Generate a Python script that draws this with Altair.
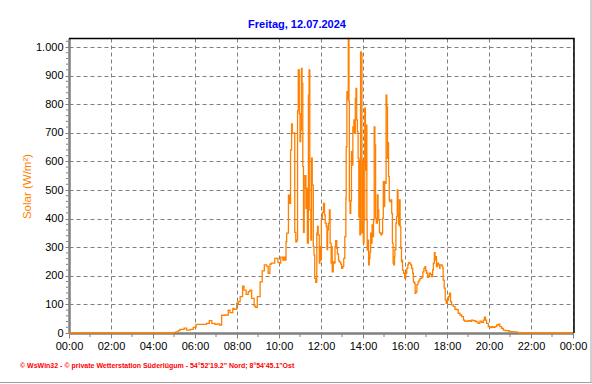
import altair as alt
import pandas as pd

# ---- data (minute of day, W/m²) ----
morning_min = [0, 294, 300, 306, 312, 317, 327, 329, 336, 346, 355, 363, 384, 393, 401, 408,
               417, 424, 430, 436, 446, 455, 460, 468, 471, 479, 484, 489, 496, 500, 506, 512,
               517, 522, 529, 533, 538, 546, 552, 558, 565, 569, 574, 578, 588, 597, 602, 605,
               611, 614, 617]
morning_val = [0, 0, 2, 4, 8, 13, 13, 17, 10, 13, 20, 30, 30, 34, 43, 34,
               30, 32, 28, 62, 63, 80, 71, 86, 83, 104, 110, 127, 164, 150, 135, 145,
               150, 121, 94, 90, 127, 179, 217, 238, 233, 209, 241, 244, 261, 246, 244, 265,
               255, 265, 255]

midday_min = [620, 622, 627, 630, 633, 636, 638, 643, 645, 648, 651, 653, 655, 658, 660, 662,
              664, 666, 668, 670, 672, 674, 677, 679, 681, 684, 686, 688, 691, 693, 695, 698,
              700, 702, 705, 708, 710, 712, 715, 717, 719, 721, 724, 727, 730, 732, 735, 737,
              739, 741, 744, 746, 749, 751, 752, 755, 757, 760, 762, 765, 767, 770, 772, 776,
              779, 782, 785, 788, 791, 792, 794, 796, 798, 800, 801, 803, 805, 807, 809, 811,
              812, 814, 816, 818, 820, 822, 824, 826, 828, 830, 831, 833, 835, 837, 839, 841,
              843, 845, 847, 849, 851, 852, 854, 856, 858, 860, 862, 864, 866, 868, 870, 872,
              874, 876, 878, 881, 883, 885, 887, 889, 891, 894, 896, 898, 900, 902, 904, 906,
              908, 910, 911, 913, 915, 917, 919, 922, 924, 926, 928, 930, 931, 934, 936, 938,
              940, 942, 944, 946, 948, 950, 951, 953, 956, 959, 962, 965, 968, 970, 973, 976,
              979, 982, 984, 987, 989, 991, 994, 997, 1000, 1003, 1006, 1009, 1011, 1014, 1017, 1019,
              1022, 1025, 1028, 1030, 1033, 1036, 1039, 1041, 1044, 1046, 1048, 1050, 1053, 1056, 1059]
midday_val = [319, 349, 482, 453, 640, 731, 698, 700, 352, 319, 325, 777, 920, 767, 669, 710,
              925, 873, 582, 352, 506, 550, 436, 506, 314, 832, 920, 431, 325, 611, 517, 302,
              273, 191, 177, 349, 373, 343, 244, 302, 255, 401, 422, 453, 413, 384, 372, 292,
              360, 384, 430, 314, 244, 302, 214, 249, 244, 302, 323, 296, 277, 255, 249, 241,
              226, 232, 261, 337, 470, 651, 844, 815, 1030, 809, 462, 418, 462, 634, 587, 721,
              703, 745, 698, 820, 855, 745, 703, 611, 406, 605, 343, 983, 977, 350, 605, 314,
              395, 786, 570, 727, 396, 290, 325, 238, 261, 284, 349, 314, 378, 337, 395, 721,
              657, 402, 384, 483, 430, 395, 352, 349, 343, 349, 402, 529, 442, 529, 523, 832,
              791, 611, 666, 547, 465, 459, 465, 418, 314, 244, 238, 267, 292, 384, 407, 500,
              412, 378, 465, 372, 296, 249, 255, 220, 209, 192, 209, 226, 238, 246, 244, 238,
              226, 209, 179, 174, 139, 144, 169, 179, 185, 191, 192, 197, 214, 226, 232, 218,
              209, 195, 200, 209, 205, 197, 221, 244, 281, 255, 267, 232, 244, 238, 226]

evening_min = [1060, 1066, 1068, 1069, 1072, 1075, 1078, 1081, 1084, 1087, 1090, 1093, 1098, 1103,
               1108, 1112, 1117, 1122, 1127, 1131, 1136, 1141, 1146, 1150, 1155, 1160, 1165, 1169,
               1174, 1179, 1184, 1187, 1190, 1193, 1198, 1203, 1208, 1212, 1217, 1222, 1227, 1231,
               1236, 1241, 1246, 1250, 1255, 1260, 1270, 1280, 1284, 1439]
evening_val = [238, 233, 226, 185, 157, 115, 104, 115, 127, 139, 110, 98, 92, 83,
               82, 69, 63, 57, 45, 41, 41, 43, 41, 45, 43, 41, 38, 34,
               41, 37, 45, 55, 45, 34, 22, 19, 22, 20, 22, 28, 31, 22,
               16, 10, 8, 8, 7, 5, 4, 2, 0, 0]

hour_ticks = list(range(0, 1441, 120))
minor_hours = list(range(60, 1440, 120))
y_ticks = list(range(0, 1001, 100))
y_minor = [v for v in range(0, 1031, 20) if v % 100 != 0]

title_text = "Freitag, 12.07.2024"
y_title = "Solar  (W/m²)"
footer = "© WsWin32  -  © private Wetterstation Süderlügum  -  54°52'19.2\" Nord; 8°54'45.1\"Ost"

ORANGE = "#FF8000"
GRAY = "#808080"
FONT = "Liberation Sans"

df = pd.DataFrame({
    "m": morning_min + midday_min + evening_min,
    "v": morning_val + midday_val + evening_val,
})

xscale = alt.Scale(domain=[0, 1440], nice=False, zero=False)
yscale = alt.Scale(domain=[0, 1031.5], nice=False)

line = alt.Chart(df).mark_line(color=ORANGE, strokeWidth=1.3, interpolate="step-after").encode(
    x=alt.X("m:Q", scale=xscale, axis=alt.Axis(
        values=hour_ticks, title=None, grid=True, gridColor=GRAY, gridDash=[4, 3], gridWidth=1,
        gridOpacity=1, domainColor=GRAY, domainWidth=2.5, tickColor=GRAY, tickSize=5, tickWidth=1,
        labelFont=FONT, labelFontSize=11, labelColor="black", labelPadding=2, labelFlush=False,
        labelExpr="(floor(datum.value/60)%24 < 10 ? '0' : '') + (floor(datum.value/60)%24) + ':00'",
    )),
    y=alt.Y("v:Q", scale=yscale, axis=alt.Axis(
        values=y_ticks, title=y_title, grid=True, gridColor=GRAY, gridDash=[4, 3], gridWidth=1,
        gridOpacity=1, domainColor=GRAY, domainWidth=2.5, tickColor=GRAY, tickSize=4, tickWidth=1,
        labelFont=FONT, labelFontSize=11, labelColor="black", labelPadding=2,
        labelExpr="replace(format(datum.value, ','), ',', '.')",
        titleFont=FONT, titleFontSize=11.5, titleFontWeight="normal", titleColor=ORANGE,
        titleAngle=270, titleX=-39, titleY=148, titleAlign="center", titleBaseline="alphabetic",
    )),
)

xminor = alt.Chart(pd.DataFrame({"m": minor_hours})).mark_rule(color=GRAY, strokeWidth=1).encode(
    x=alt.X("m:Q", scale=xscale, axis=None),
    y=alt.value(296), y2=alt.value(299),
)

yminor = alt.Chart(pd.DataFrame({"v": y_minor})).mark_rule(color=GRAY, strokeWidth=1).encode(
    y=alt.Y("v:Q", scale=yscale, axis=None),
    x=alt.value(-3), x2=alt.value(-1),
)

ttl = alt.Chart(pd.DataFrame({"t": [title_text]})).mark_text(
    color="#0000FF", font=FONT, fontSize=11, fontWeight="bold", align="center", baseline="alphabetic"
).encode(text="t:N", x=alt.value(228), y=alt.value(-10))

foot = alt.Chart(pd.DataFrame({"t": [footer]})).mark_text(
    color="#FF0000", font=FONT, fontSize=7, fontWeight="bold", align="left", baseline="alphabetic"
).encode(text="t:N", x=alt.value(-49), y=alt.value(330))

frame = pd.DataFrame({"k": [0]})
top_b = alt.Chart(frame).mark_rule(color="black", strokeWidth=1.5).encode(
    x=alt.value(0), x2=alt.value(505.5), y=alt.value(0.5))
right_b = alt.Chart(frame).mark_rule(color="black", strokeWidth=1.5).encode(
    x=alt.value(505), y=alt.value(0), y2=alt.value(295))
border_r = alt.Chart(frame).mark_rule(color="#A0A0A0", strokeWidth=1).encode(
    x=alt.value(522), y=alt.value(-38), y2=alt.value(345))
border_b = alt.Chart(frame).mark_rule(color="#A0A0A0", strokeWidth=1).encode(
    x=alt.value(-69), x2=alt.value(522.5), y=alt.value(344.5))

chart = alt.layer(line, xminor, yminor, ttl, foot, top_b, right_b, border_r, border_b).resolve_axis(
    x="independent", y="independent"
).properties(
    width=504, height=295,
    padding={"left": 69, "top": 38, "right": 19, "bottom": 51},
    autosize=alt.AutoSizeParams(type="none"),
).configure_view(stroke=None).configure(background="white")

chart.save("out.html", embed_options={"renderer": "svg", "actions": False})
